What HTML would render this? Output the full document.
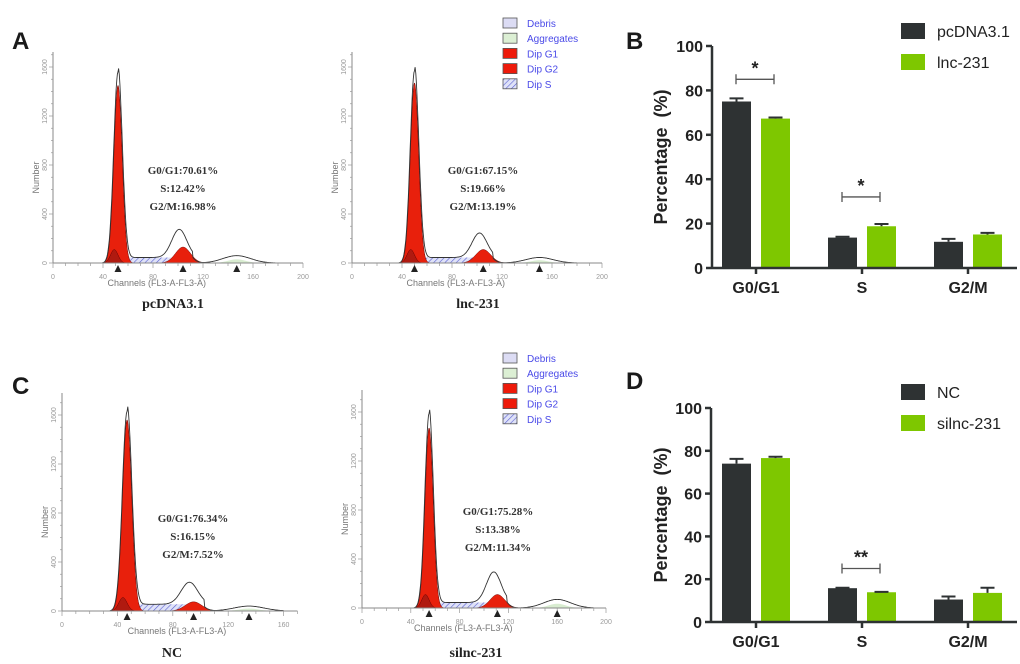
<!DOCTYPE html>
<html><head><meta charset="utf-8"><style>
body{margin:0;background:#fff}
svg{display:block}
.pl{font-family:"Liberation Sans",sans-serif;font-weight:bold;font-size:24px;fill:#1a1a1a}
.st{font-family:"Liberation Serif",serif;font-weight:bold;font-size:11px;fill:#333}
.cap{font-family:"Liberation Serif",serif;font-weight:bold;font-size:14px;fill:#222}
.tk{font-family:"Liberation Sans",sans-serif;font-size:7px;fill:#999}
.ax{font-family:"Liberation Sans",sans-serif;font-size:9px;fill:#777}
.lg{font-family:"Liberation Sans",sans-serif;font-size:10px;fill:#4a4ae8}
.bt{font-family:"Liberation Sans",sans-serif;font-weight:bold;font-size:16px;fill:#222}
.bl{font-family:"Liberation Sans",sans-serif;font-size:16px;fill:#222}
</style></head><body>
<svg id="fig" width="1020" height="664" viewBox="0 0 1020 664" xmlns="http://www.w3.org/2000/svg">
<defs>
<pattern id="hatch" width="4" height="4" patternUnits="userSpaceOnUse" patternTransform="rotate(45)">
<rect width="4" height="4" fill="#dfe2f8"/><line x1="0" y1="0" x2="0" y2="4" stroke="#5a60d0" stroke-width="1.2"/></pattern>
</defs>
<text class="pl" x="12" y="49">A</text>
<text class="pl" x="626" y="49">B</text>
<text class="pl" x="12" y="394">C</text>
<text class="pl" x="626" y="389">D</text>
<g id="hists"></g>
<g id="bars"></g>
</svg>
<script>
// Histogram peak readings: [channel, height]
const histNames = ["pcDNA3.1","lnc-231","NC","silnc-231"];
const g1Peak = [[52,1450],[50,1470],[47,1560],[55,1470]];
const g1Outline = [1560,1570,1630,1590];
const g2Peak = [[104,130],[105,110],[95,75],[111,110]];
const g2Outline = [230,200,180,250];
const sLevel = [45,45,55,45];
const extraPeak = [[147,60],[150,45],[135,40],[160,70]];
const statG1 = ["G0/G1:70.61%","G0/G1:67.15%","G0/G1:76.34%","G0/G1:75.28%"];
const statS = ["S:12.42%","S:19.66%","S:16.15%","S:13.38%"];
const statG2 = ["G2/M:16.98%","G2/M:13.19%","G2/M:7.52%","G2/M:11.34%"];
const chMax = [200,200,170,200];
const xLabelMax = [200,200,160,200];
const yTicks = [0,400,800,1200,1600];

// bar chart data
const phases = ["G0/G1","S","G2/M"];
const ctrlB = [75.0,13.7,11.8], ctrlBerr=[1.4,0.4,1.3];
const trtB = [67.3,18.8,15.1], trtBerr=[0.5,1.0,0.7];
const ctrlD = [74.0,15.8,10.5], ctrlDerr=[2.2,0.2,1.4];
const trtD = [76.6,13.9,13.6], trtDerr=[0.6,0.2,2.4];
const barTicks = [0,20,40,60,80,100];

const NS="http://www.w3.org/2000/svg";
function mk(tag,attrs,parent,txt){const e=document.createElementNS(NS,tag);for(const k in attrs)e.setAttribute(k,attrs[k]);if(txt!==undefined)e.textContent=txt;parent.appendChild(e);return e;}

const layouts=[{ox:53,by:263,pc:1.25,top:52,sx:183,sy:174,cx:173,cy:308},
{ox:352,by:263,pc:1.25,top:52,sx:483,sy:174,cx:478,cy:308},
{ox:62,by:611,pc:1.385,top:393,sx:193,sy:522,cx:172,cy:657},
{ox:362,by:608,pc:1.22,top:390,sx:498,sy:515,cx:476,cy:657}];
const hg=document.getElementById('hists');
function gauss(x,m,s){return Math.exp(-0.5*((x-m)/s)**2);}
layouts.forEach((L,i)=>{
  const g=mk('g',{},hg);
  
  
  const py=0.1225; // px per count
  const X=c=>L.ox+c*L.pc, Y=v=>L.by-v*py;
  let d='M'+X(g1Peak[i][0])+','+L.by;
  for(let c=g1Peak[i][0];c<=g2Peak[i][0];c+=1){d+=' L'+X(c)+','+Y(sLevel[i]);}
  d+=' L'+X(g2Peak[i][0])+','+L.by+'Z';
  const sh=mk('path',{d:d,fill:'url(#hatch)',stroke:'none'},g);
  
  let e='M'+X(extraPeak[i][0]-20)+','+L.by;
  for(let c=extraPeak[i][0]-20;c<=extraPeak[i][0]+20;c++)e+=' L'+X(c)+','+Y(extraPeak[i][1]*0.5*gauss(c,extraPeak[i][0],7));
  e+='Z';
  const ag=mk('path',{d:e,fill:'#d8ecd0',stroke:'none'},g);
  
  function peak(m,h,s,name,fill){let p='M'+X(m-4*s)+','+L.by;for(let c=m-4*s;c<=m+4*s;c+=0.25)p+=' L'+X(c)+','+Y(h*gauss(c,m,s));p+=' L'+X(m+4*s)+','+L.by+'Z';const el=mk('path',{d:p,fill:fill,stroke:'#600',"stroke-width":0.5},g);}
  peak(g1Peak[i][0],g1Peak[i][1],3.3,'g1-peak','#e8200c');
  peak(g1Peak[i][0]-3,110,3,'debris-peak','#b01a10');
  peak(g2Peak[i][0],g2Peak[i][1],6,'g2-peak','#e8200c');
  let o='';
  for(let c=30;c<=chMax[i]-10;c+=0.5){
    const v=g1Outline[i]*gauss(c,g1Peak[i][0],3.4)+(c>g1Peak[i][0]&&c<g2Peak[i][0]+8?sLevel[i]:0)+g2Outline[i]*gauss(c,g2Peak[i][0]-3,6)+extraPeak[i][1]*gauss(c,extraPeak[i][0],11);
    o+=(o?' L':'M')+X(c).toFixed(1)+','+Y(v).toFixed(1);
  }
  const ol=mk('path',{d:o,fill:'none',stroke:'#333',"stroke-width":0.9},g);
  
  mk('line',{x1:L.ox,y1:L.by,x2:L.ox,y2:L.top,stroke:'#888',"stroke-width":1},g);
  mk('line',{x1:L.ox,y1:L.by,x2:X(chMax[i]),y2:L.by,stroke:'#888',"stroke-width":1},g);
  for(let v=0;v<=1700;v+=100)mk('line',{x1:L.ox-(v%400?2:4),y1:Y(v),x2:L.ox,y2:Y(v),stroke:'#999',"stroke-width":0.7},g);
  yTicks.forEach(v=>{mk('text',{class:'tk',x:L.ox-6,y:Y(v),transform:`rotate(-90 ${L.ox-6} ${Y(v)})`,"text-anchor":'middle'},g,v);});
  for(let c=0;c<=chMax[i];c+=10)mk('line',{x1:X(c),y1:L.by,x2:X(c),y2:L.by+(c%40?3:5),stroke:'#999',"stroke-width":0.7},g);
  for(let c=0;c<=xLabelMax[i];c+=40)mk('text',{class:'tk',x:X(c),y:L.by+16,"text-anchor":'middle'},g,c);
  mk('text',{class:'ax',x:L.ox-14,y:(L.by+L.top)/2+20,transform:`rotate(-90 ${L.ox-14} ${(L.by+L.top)/2+20})`,"text-anchor":'middle'},g,'Number');
  mk('text',{class:'ax',x:X(83),y:L.by+23,"text-anchor":'middle'},g,'Channels (FL3-A-FL3-A)');
  [g1Peak[i][0],g2Peak[i][0],extraPeak[i][0]].forEach(c=>{mk('path',{d:`M${X(c)-3.5},${L.by+9} L${X(c)+3.5},${L.by+9} L${X(c)},${L.by+2}Z`,fill:'#222'},g);});
  const s1=mk('text',{class:'st',x:L.sx,y:L.sy,"text-anchor":'middle'},g,statG1[i]);
  
  const s2=mk('text',{class:'st',x:L.sx,y:L.sy+18,"text-anchor":'middle'},g,statS[i]);
  
  const s3=mk('text',{class:'st',x:L.sx,y:L.sy+36,"text-anchor":'middle'},g,statG2[i]);
  
  const cp=mk('text',{class:'cap',x:L.cx,y:L.cy,"text-anchor":'middle'},g,histNames[i]);
  
});
const legItems=[["Debris","#dcdcf4"],["Aggregates","#dcefd4"],["Dip G1","#ee1a0a"],["Dip G2","#ee1a0a"],["Dip S","hatch"]];
[18,353].forEach(y0=>{
  const g=mk('g',{},hg);
  
  legItems.forEach((it,k)=>{const y=y0+k*15.2;
    mk('rect',{x:503,y:y,width:14,height:10,fill:it[1]==='hatch'?'url(#hatch)':it[1],stroke:'#555',"stroke-width":0.8},g);
    mk('text',{class:'lg',x:527,y:y+9},g,it[0]);});
});
const bg=document.getElementById('bars');
function barChart(name,ox,y0,y100,ctrl,ce,trt,te,names,legY,sig){
  const g=mk('g',{},bg);
  
  const Y=v=>y0-(y0-y100)*v/100;
  const cx=k=>756+k*106;
  const bw=29;
  ctrl.forEach((v,k)=>{
    const r=mk('rect',{x:cx(k)-bw-5,y:Y(v),width:bw,height:y0-Y(v),fill:'#2e3233'},g);
    
    mk('path',{d:`M${cx(k)-5-bw/2},${Y(v)} V${Y(v+ce[k])} M${cx(k)-5-bw/2-7},${Y(v+ce[k])} H${cx(k)-5-bw/2+7}`,stroke:'#2e3233',"stroke-width":2,fill:'none'},g);
  });
  trt.forEach((v,k)=>{
    const r=mk('rect',{x:cx(k)+5,y:Y(v),width:bw,height:y0-Y(v),fill:'#7ec700'},g);
    
    mk('path',{d:`M${cx(k)+5+bw/2},${Y(v)} V${Y(v+te[k])} M${cx(k)+5+bw/2-7},${Y(v+te[k])} H${cx(k)+5+bw/2+7}`,stroke:'#2e3233',"stroke-width":2,fill:'none'},g);
  });
  mk('line',{x1:ox,y1:y0,x2:ox,y2:y100,stroke:'#2e3233',"stroke-width":2.5},g);
  mk('line',{x1:ox,y1:y0,x2:1017,y2:y0,stroke:'#2e3233',"stroke-width":2.5},g);
  barTicks.forEach(v=>{mk('line',{x1:ox-6,y1:Y(v),x2:ox,y2:Y(v),stroke:'#2e3233',"stroke-width":2.5},g);
    mk('text',{class:'bt',x:ox-9,y:Y(v)+6,"text-anchor":'end'},g,v);});
  phases.forEach((p,k)=>{mk('line',{x1:cx(k),y1:y0,x2:cx(k),y2:y0+6,stroke:'#2e3233',"stroke-width":2.5},g);
    mk('text',{class:'bt',x:cx(k),y:y0+25,"text-anchor":'middle'},g,p);});
  const ym=(y0+y100)/2;
  mk('text',{class:'bt',x:667,y:ym,transform:`rotate(-90 667 ${ym})`,"text-anchor":'middle',style:'font-size:18px'},g,'Percentage\u00a0\u00a0(%)');
  sig.forEach(s=>{const k=s[0],yy=Y(s[1]);
    mk('path',{d:`M${cx(k)-20},${yy-5} V${yy+5} M${cx(k)-20},${yy} H${cx(k)+18} M${cx(k)+18},${yy-5} V${yy+5}`,stroke:'#555',"stroke-width":1.3,fill:'none'},g);
    mk('text',{class:'bt',x:cx(k)-1,y:yy-5,"text-anchor":'middle',style:'font-size:18px'},g,s[2]);});
  mk('rect',{x:901,y:legY,width:24,height:16,fill:'#2e3233'},g);
  mk('text',{class:'bl',x:937,y:legY+14},g,names[0]);
  mk('rect',{x:901,y:legY+31,width:24,height:16,fill:'#7ec700'},g);
  mk('text',{class:'bl',x:937,y:legY+45},g,names[1]);
}
barChart('bar-chart-b',712,268,46,ctrlB,ctrlBerr,trtB,trtBerr,["pcDNA3.1","lnc-231"],23,[[0,85,'*'],[1,32,'*']]);
barChart('bar-chart-d',711,622,408,ctrlD,ctrlDerr,trtD,trtDerr,["NC","silnc-231"],384,[[1,25,'**']]);
</script>
</body></html>
